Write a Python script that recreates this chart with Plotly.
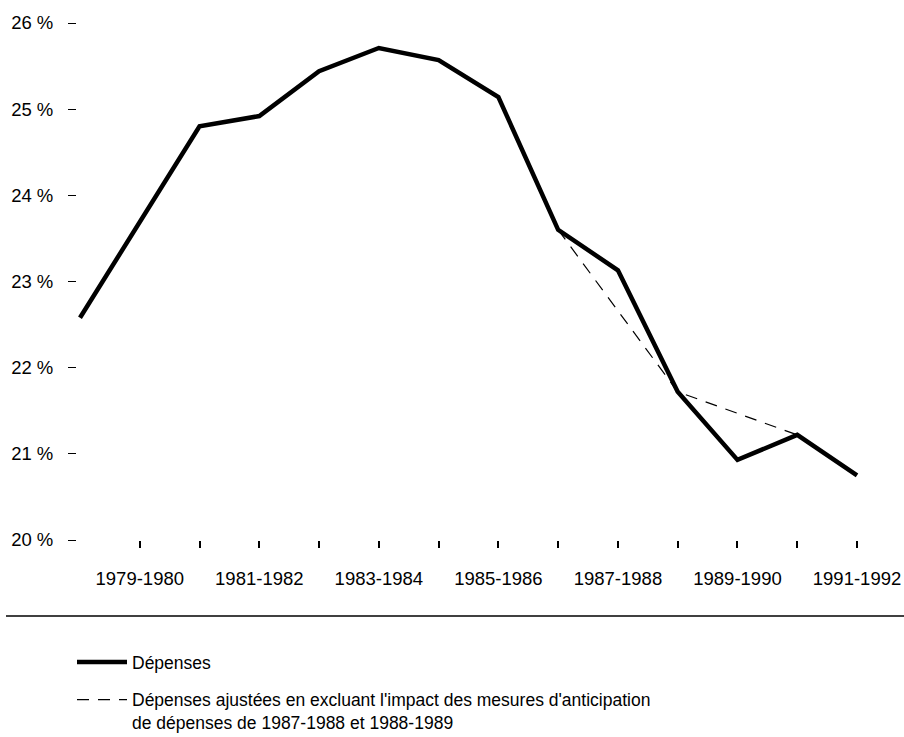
import plotly.graph_objects as go

categories = ["1978-1979", "1979-1980", "1980-1981", "1981-1982", "1982-1983",
              "1983-1984", "1984-1985", "1985-1986", "1986-1987", "1987-1988",
              "1988-1989", "1989-1990", "1990-1991", "1991-1992"]
depenses = [22.58, 23.70, 24.80, 24.92, 25.44, 25.71, 25.57, 25.14, 23.60,
            23.13, 21.72, 20.93, 21.22, 20.75]
adj_categories = ["1986-1987", "1987-1988", "1988-1989", "1989-1990", "1990-1991"]
depenses_ajustees = [23.60, 22.66, 21.72, 21.47, 21.22]

y_ticks = [20, 21, 22, 23, 24, 25, 26]
y_tick_labels = ["20 %", "21 %", "22 %", "23 %", "24 %", "25 %", "26 %"]
x_tick_cats = categories[1:]
x_tick_labels = [c if i % 2 == 0 else "" for i, c in enumerate(x_tick_cats)]

W, H = 904, 737
ml, mr, mt, mb = 77, 44, 23, 197
pw = W - ml - mr
ph = H - mt - mb
bottom = H - mb

font = "Liberation Sans, Arial, sans-serif"

fig = go.Figure()
fig.add_trace(go.Scatter(
    x=categories, y=depenses, mode="lines", name="Dépenses",
    legendgroup="a",
    line=dict(color="black", width=4.5), cliponaxis=False,
))
fig.add_trace(go.Scatter(
    x=adj_categories, y=depenses_ajustees, mode="lines",
    legendgroup="b",
    name="Dépenses ajustées en excluant l'impact des mesures d'anticipation<br>de dépenses de 1987-1988 et 1988-1989",
    line=dict(color="black", width=1.2, dash="12px,9px"), cliponaxis=False,
))

sep_y = -(616 - bottom) / ph
fig.add_shape(type="line", xref="paper", yref="paper",
              x0=-(ml - 6) / pw, x1=1 + mr / pw,
              y0=sep_y, y1=sep_y,
              line=dict(color="black", width=1.3))

fig.update_layout(
    width=W, height=H,
    margin=dict(l=ml, r=mr, t=mt, b=mb, autoexpand=False),
    paper_bgcolor="white", plot_bgcolor="white",
    font=dict(family=font, color="black", size=19),
    showlegend=True,
    legend=dict(
        x=(72 - ml) / pw, xanchor="left",
        y=-(644 - bottom) / ph, yanchor="top",
        font=dict(size=17.5, family=font, color="black"),
        itemwidth=50, tracegroupgap=12, valign="top",
        bgcolor="rgba(0,0,0,0)",
    ),
    xaxis=dict(
        type="category", categoryorder="array", categoryarray=categories,
        range=[-0.05, 13.05], automargin=False,
        tickmode="array", tickvals=x_tick_cats, ticktext=x_tick_labels,
        ticks="outside", ticklen=7, tickwidth=1.5, tickcolor="black",
        showline=False, showgrid=False, zeroline=False,
        tickfont=dict(size=18.5), ticklabelstandoff=15,
    ),
    yaxis=dict(
        range=[20, 26], tickmode="array", tickvals=y_ticks, ticktext=y_tick_labels,
        automargin=False,
        ticks="outside", ticklen=8, tickwidth=1.3, tickcolor="black",
        showline=False, showgrid=False, zeroline=False,
        tickfont=dict(size=18.5), ticklabelstandoff=11,
    ),
)

fig.write_html(
    "out.html",
    config={"displayModeBar": False},
    post_script="document.body.style.margin='0';document.body.style.overflow='hidden';",
)
